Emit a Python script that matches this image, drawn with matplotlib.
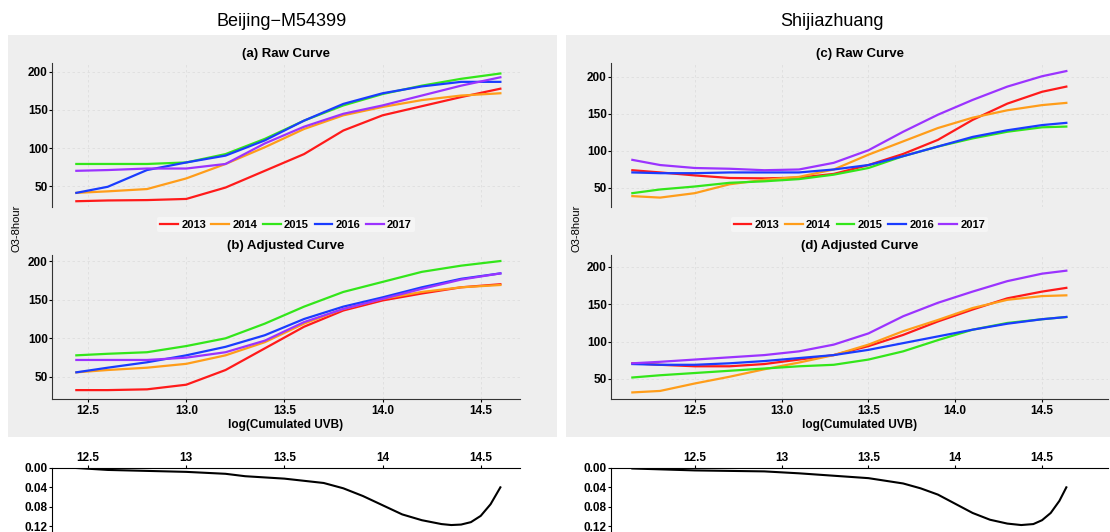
"""Beijing / Shijiazhuang O3-8hour vs log(Cumulated UVB): raw curves,
adjusted curves and the difference profile underneath."""
import matplotlib
matplotlib.use("Agg")
import matplotlib.pyplot as plt
from matplotlib.patches import Rectangle

plt.rcParams["font.family"] = ["Liberation Sans Narrow", "Liberation Sans", "DejaVu Sans"]

years = ["2013", "2014", "2015", "2016", "2017"]
colors = ["#ff1a1a", "#ff9d1a", "#33e61a", "#1a3cff", "#9b33ff"]

# Beijing-M54399
bj_x = [12.44, 12.6, 12.8, 13.0, 13.2, 13.4, 13.6, 13.8, 14.0, 14.2, 14.4, 14.6]
bj_raw = {
    "2013": [30, 31, 31.5, 33, 48, 70, 92, 123, 143, 155, 167, 178],
    "2014": [41, 43, 46, 60, 79, 101, 125, 143, 154, 163, 169, 172],
    "2015": [79, 79, 79, 81, 92, 112, 136, 156, 171, 182, 191, 198],
    "2016": [41, 49, 71, 81, 90, 110, 136, 158, 172, 181, 187, 187],
    "2017": [70, 71, 73, 73, 79, 106, 128, 145, 156, 169, 182, 193],
}
bj_adj = {
    "2013": [33, 33, 34, 40, 59, 87, 115, 136, 149, 158, 166, 170],
    "2014": [56, 59, 62, 67, 78, 95, 119, 138, 151, 160, 166, 169],
    "2015": [78, 80, 82, 90, 100, 119, 141, 160, 173, 186, 194, 200],
    "2016": [56, 62, 69, 78, 89, 104, 125, 141, 153, 166, 177, 184],
    "2017": [72, 72, 72, 75, 82, 97, 121, 138, 151, 164, 176, 184],
}
bj_dx = [12.44, 12.6, 13.0, 13.2, 13.3, 13.5, 13.7, 13.8, 13.9, 14.0, 14.1, 14.2,
         14.3, 14.35, 14.4, 14.45, 14.5, 14.55, 14.6]
bj_diff = [0.0, 0.004, 0.008, 0.012, 0.017, 0.022, 0.031, 0.042, 0.058, 0.077, 0.096,
           0.108, 0.116, 0.118, 0.117, 0.112, 0.099, 0.075, 0.04]

# Shijiazhuang
sjz_x = [12.14, 12.3, 12.5, 12.7, 12.9, 13.1, 13.3, 13.5, 13.7, 13.9, 14.1, 14.3, 14.5, 14.64]
sjz_raw = {
    "2013": [74, 71, 67, 63.5, 63, 64, 69, 81, 96, 115, 142, 164, 180, 187],
    "2014": [39, 37, 43, 55, 61, 65, 75, 95, 113, 131, 145, 155, 162, 165],
    "2015": [43, 48, 52, 57, 59, 62, 68, 77, 93, 106, 117, 126, 132, 133],
    "2016": [71, 70, 70, 71, 71, 71, 75, 81, 93, 106, 119, 128, 135, 138],
    "2017": [88, 81, 77, 76, 74, 75, 84, 101, 126, 149, 169, 187, 201, 208],
}
sjz_adj = {
    "2013": [71, 69, 67, 67, 70, 76, 82, 94, 109, 127, 143, 158, 167, 172],
    "2014": [32, 34, 44, 53, 63, 72, 82, 96, 114, 129, 145, 156, 161, 162],
    "2015": [52, 55, 58, 61, 64, 67, 69, 76, 87, 102, 116, 125, 130, 133],
    "2016": [70, 69, 69, 71, 74, 78, 82, 89, 98, 107, 116, 124, 130, 133],
    "2017": [71, 73, 76, 79, 82, 87, 96, 111, 134, 152, 167, 181, 191, 195],
}
sjz_dx = [12.14, 12.5, 12.9, 13.1, 13.3, 13.5, 13.7, 13.8, 13.9, 14.0, 14.1, 14.2,
          14.3, 14.38, 14.45, 14.5, 14.55, 14.6, 14.64]
sjz_diff = [0.001, 0.005, 0.007, 0.011, 0.016, 0.021, 0.032, 0.042, 0.055, 0.074, 0.093,
            0.107, 0.115, 0.118, 0.116, 0.108, 0.093, 0.068, 0.04]

curve_ticks = [12.5, 13.0, 13.5, 14.0, 14.5]
curve_labels = ["12.5", "13.0", "13.5", "14.0", "14.5"]
diff_labels = ["12.5", "13", "13.5", "14", "14.5"]
o3_ticks = [50, 100, 150, 200]
diff_ticks = [0.00, 0.04, 0.08, 0.12]

W, H = 1110, 532
PANEL = "#eeeeee"


def fr(x0, y0, x1, y1):
    """pixel box (top-left origin) -> figure fraction rect"""
    return [x0 / W, 1 - y1 / H, (x1 - x0) / W, (y1 - y0) / H]


def style_curve_ax(ax, xlim, ylim, show_x):
    ax.set_facecolor("none")
    ax.set_xlim(*xlim)
    ax.set_ylim(*ylim)
    ax.set_yticks(o3_ticks)
    ax.set_xticks(curve_ticks)
    ax.grid(True, color="#dedede", linestyle=(0, (3, 3)), linewidth=0.6)
    for s in ["top", "right"]:
        ax.spines[s].set_visible(False)
    ax.spines["left"].set_color("#333333")
    ax.tick_params(axis="y", labelsize=8.5, length=2, pad=1)
    if show_x:
        ax.spines["bottom"].set_color("#333333")
        ax.set_xticklabels(curve_labels)
        ax.tick_params(axis="x", labelsize=8.5, length=2, pad=2)
        ax.set_xlabel("log(Cumulated UVB)", fontsize=8.5, fontweight="bold", labelpad=2)
    else:
        ax.spines["bottom"].set_visible(False)
        ax.tick_params(axis="x", length=0, labelbottom=False)
    for lab in ax.get_xticklabels() + ax.get_yticklabels():
        lab.set_fontweight("bold")


def draw_station(name, x, raw, adj, dx, diff, left, right, xlim, ylims, letters, title_x):
    # raw curve
    ax1 = fig.add_axes(fr(left, 63, right, 207))
    for yr, c in zip(years, colors):
        ax1.plot(x, raw[yr], color=c, lw=1.6, label=yr, solid_joinstyle="round")
    style_curve_ax(ax1, xlim, ylims[0], False)
    ax1.set_title(f"({letters[0]}) Raw Curve", fontsize=9.5, fontweight="bold", pad=4)
    leg = ax1.legend(loc="upper center", bbox_to_anchor=(0.5, -0.03), ncol=5,
                     fontsize=8, frameon=True, handlelength=1.6, handletextpad=0.3,
                     columnspacing=0.5, borderpad=0.25)
    leg.get_frame().set_facecolor("#f7f7f7")
    leg.get_frame().set_edgecolor("none")
    for t in leg.get_texts():
        t.set_fontweight("bold")

    # adjusted curve
    ax2 = fig.add_axes(fr(left, 255, right, 399))
    for yr, c in zip(years, colors):
        ax2.plot(x, adj[yr], color=c, lw=1.6, solid_joinstyle="round")
    style_curve_ax(ax2, xlim, ylims[1], True)
    ax2.set_title(f"({letters[1]}) Adjusted Curve", fontsize=9.5, fontweight="bold", pad=4)

    # difference profile
    ax3 = fig.add_axes(fr(left, 468, right, 532))
    ax3.plot(dx, diff, color="black", lw=1.5, solid_joinstyle="round")
    ax3.set_xlim(*xlim)
    ax3.set_ylim(0.1324, 0.0)
    ax3.set_yticks(diff_ticks)
    ax3.set_yticklabels([f"{v:.2f}" for v in diff_ticks])
    ax3.set_xticks(curve_ticks)
    ax3.set_xticklabels(diff_labels)
    ax3.xaxis.tick_top()
    ax3.spines["bottom"].set_visible(False)
    ax3.spines["right"].set_visible(False)
    ax3.tick_params(axis="both", labelsize=8.5, length=2, pad=1)
    for lab in ax3.get_xticklabels() + ax3.get_yticklabels():
        lab.set_fontweight("bold")

    fig.text(title_x / W, 1 - 22 / H, name, ha="center", va="center",
             fontsize=13, family=["Liberation Sans", "DejaVu Sans"])
    fig.text((left - 35) / W, 1 - 228 / H, "O3-8hour", rotation=90,
             ha="center", va="center", fontsize=8)


fig = plt.figure(figsize=(W / 100, H / 100), dpi=100)
fig.patches.append(Rectangle((8 / W, 1 - 437 / H), 549 / W, 402 / H,
                             transform=fig.transFigure, facecolor=PANEL,
                             edgecolor="none", zorder=-10))
fig.patches.append(Rectangle((566 / W, 1 - 437 / H), 544 / W, 402 / H,
                             transform=fig.transFigure, facecolor=PANEL,
                             edgecolor="none", zorder=-10))

draw_station("Beijing\u2212M54399", bj_x, bj_raw, bj_adj, bj_dx, bj_diff,
             52, 520, (12.316, 14.70), [(22.4, 211.8), (21.5, 207.8)], ("a", "b"), 282)
draw_station("Shijiazhuang", sjz_x, sjz_raw, sjz_adj, sjz_dx, sjz_diff,
             611, 1108, (12.017, 14.88), [(24.3, 218.9), (23.2, 216.0)], ("c", "d"), 832)

fig.savefig("out.png", dpi=100)
